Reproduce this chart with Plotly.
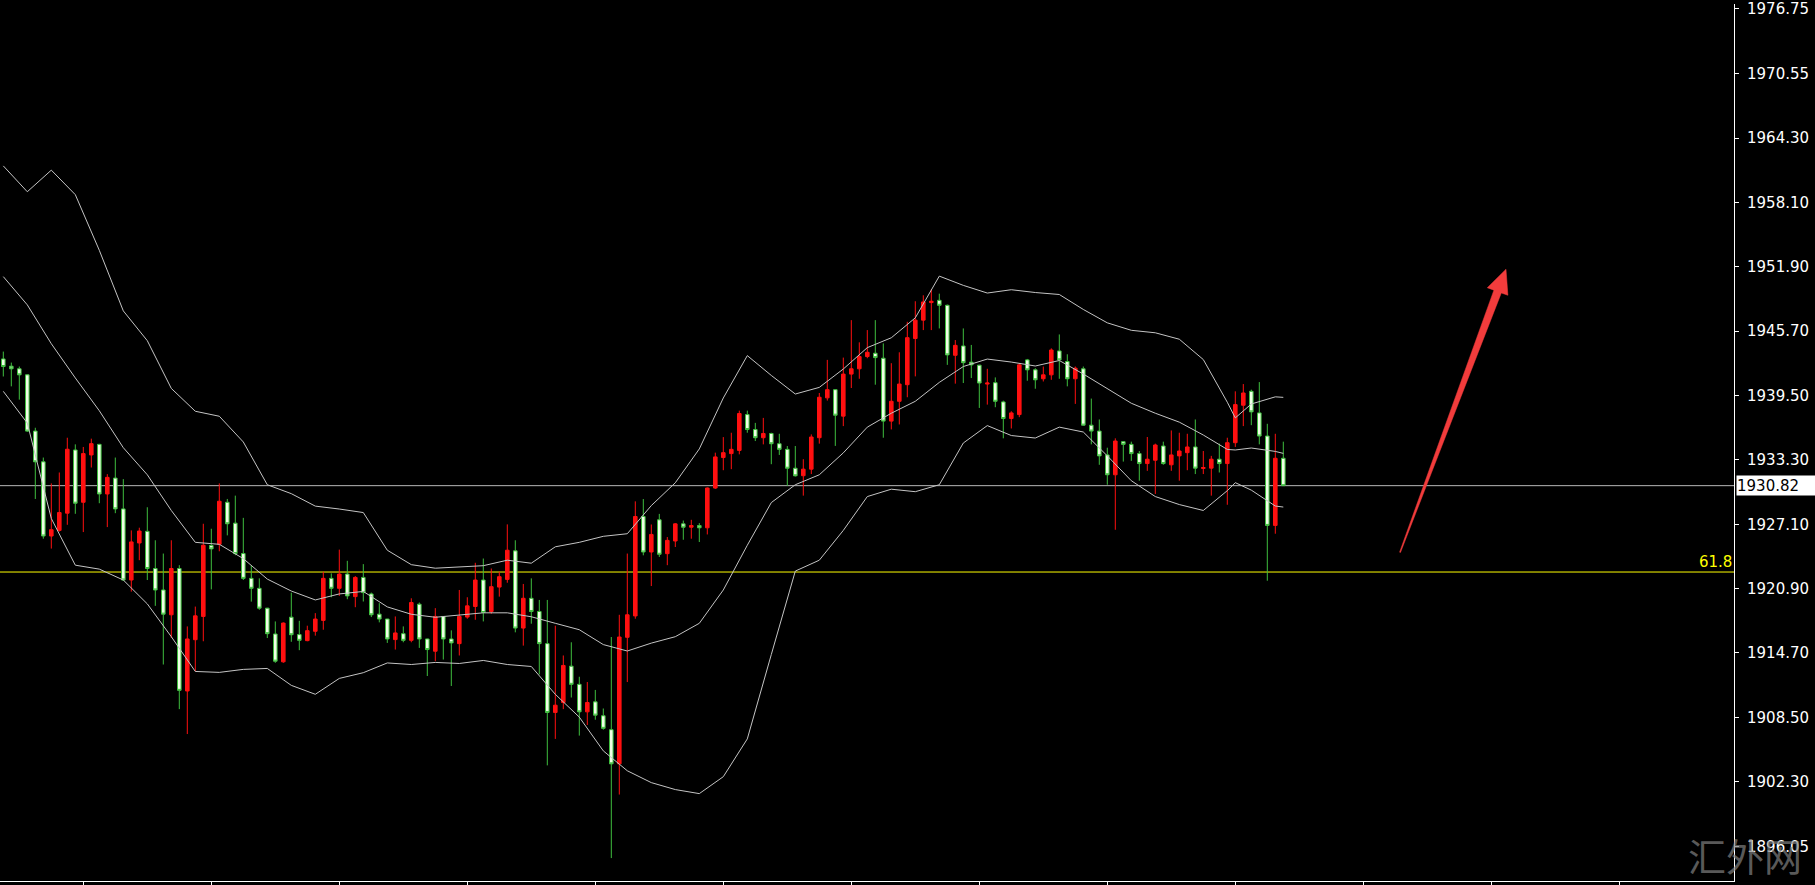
import plotly.graph_objects as go

# ---------------- data ----------------
opens = [1943.03,1942.33,1942.08,1941.50,1936.08,1933.12,1925.97,1926.51,1928.17,1934.26,
         1929.22,1933.78,1934.80,1930.02,1931.55,1928.58,1921.73,1925.30,1926.42,1922.84,
         1920.77,1918.38,1922.84,1911.04,1915.98,1918.22,1925.05,1925.17,1929.22,1927.21,
         1924.28,1921.89,1920.93,1919.02,1916.53,1913.85,1918.15,1916.47,1915.89,1916.79,
         1917.84,1921.89,1920.93,1922.30,1920.13,1921.98,1920.39,1918.44,1917.97,1915.99,
         1916.56,1915.92,1919.40,1916.05,1914.87,1918.22,1916.05,1915.60,1918.16,1919.18,
         1921.73,1918.70,1921.05,1921.79,1924.54,1917.10,1919.97,1918.70,1915.60,1908.97,
         1909.93,1913.43,1911.68,1909.03,1909.99,1908.65,1907.31,1904.02,1916.21,1918.27,
         1927.85,1924.43,1927.53,1924.27,1925.49,1927.14,1926.82,1926.98,1926.76,1930.59,
         1933.53,1933.91,1934.22,1937.67,1936.23,1935.44,1935.85,1934.86,1934.32,1932.50,
         1931.78,1932.41,1935.44,1939.28,1940.07,1937.52,1941.57,1942.08,1943.26,1943.58,
         1943.10,1937.04,1938.95,1940.55,1945.00,1946.77,1948.46,1948.68,1948.20,1943.38,
         1944.28,1942.72,1942.43,1940.61,1940.74,1938.89,1937.29,1937.67,1942.94,1941.98,
         1941.12,1941.50,1943.80,1942.78,1941.12,1942.08,1936.65,1936.08,1933.78,1931.87,
         1935.06,1934.80,1933.91,1932.95,1933.27,1934.64,1932.83,1933.69,1934.00,1934.55,
         1932.48,1932.51,1933.37,1932.95,1934.96,1938.57,1939.91,1937.83,1935.60,1926.99,
         1933.46]
highs = [1943.74,1942.68,1942.30,1941.55,1936.40,1933.53,1931.04,1932.09,1935.44,1934.80,
         1934.55,1935.35,1934.85,1931.93,1933.53,1931.45,1926.51,1926.77,1928.74,1925.56,
         1924.28,1925.56,1923.16,1917.26,1919.17,1927.15,1926.67,1931.04,1929.54,1929.86,
         1927.72,1923.16,1921.89,1919.05,1917.74,1917.65,1920.51,1917.80,1917.33,1918.54,
         1922.53,1922.37,1924.66,1923.58,1922.11,1923.26,1920.52,1919.50,1917.99,1918.22,
         1917.26,1919.97,1919.56,1916.08,1919.02,1918.25,1916.88,1920.77,1920.07,1923.39,
         1923.80,1922.84,1922.53,1927.09,1925.56,1921.35,1921.89,1919.81,1919.81,1917.33,
         1914.46,1915.73,1912.41,1911.90,1911.14,1909.35,1916.24,1918.38,1924.28,1929.31,
         1929.53,1927.08,1928.10,1925.87,1927.21,1927.46,1927.53,1927.21,1930.65,1934.00,
         1935.50,1935.92,1938.05,1938.05,1936.87,1937.35,1935.92,1935.82,1934.64,1934.64,
         1933.37,1935.76,1939.75,1942.94,1940.10,1943.16,1946.77,1944.63,1945.81,1946.77,
         1944.53,1942.62,1943.67,1946.61,1948.59,1949.16,1949.73,1949.32,1948.27,1944.85,
         1945.97,1944.38,1942.46,1942.08,1941.25,1939.01,1937.99,1942.62,1943.03,1942.14,
         1942.30,1944.05,1945.39,1943.48,1942.30,1942.30,1939.21,1937.20,1934.48,1935.38,
         1935.12,1935.06,1934.16,1935.51,1934.87,1935.06,1936.14,1935.92,1935.82,1937.20,
         1934.16,1933.69,1934.87,1935.44,1939.91,1940.61,1940.07,1940.80,1936.78,1935.82,
         1935.06]
lows = [1941.34,1940.39,1939.11,1936.00,1929.54,1925.71,1924.76,1926.40,1927.05,1928.11,
        1926.35,1932.57,1929.13,1926.83,1928.17,1921.66,1920.61,1923.64,1921.73,1919.24,
        1913.59,1916.14,1909.29,1906.89,1912.95,1915.83,1920.83,1924.50,1926.03,1924.12,
        1921.73,1919.65,1918.86,1916.14,1913.75,1913.75,1915.78,1914.97,1915.83,1916.37,
        1916.94,1920.07,1920.20,1919.88,1919.11,1919.66,1918.16,1917.65,1915.67,1915.03,
        1915.73,1915.73,1915.19,1912.48,1913.91,1914.07,1911.52,1914.46,1918.00,1917.90,
        1917.74,1918.48,1920.13,1921.47,1916.69,1915.41,1917.52,1912.64,1903.87,1906.42,
        1909.29,1910.41,1906.74,1907.76,1908.27,1907.31,1894.94,1901.06,1911.90,1918.00,
        1924.11,1921.15,1923.95,1923.16,1924.91,1925.61,1925.71,1925.39,1926.12,1930.50,
        1932.31,1932.41,1933.84,1935.92,1935.12,1934.80,1932.89,1933.78,1930.81,1931.70,
        1929.86,1931.94,1934.87,1939.02,1934.65,1936.56,1940.23,1941.12,1943.10,1940.55,
        1935.44,1936.24,1936.72,1939.34,1941.35,1945.81,1945.81,1945.97,1942.46,1940.65,
        1940.71,1941.19,1938.31,1938.63,1938.38,1935.38,1936.33,1937.42,1940.93,1940.16,
        1940.86,1941.02,1941.12,1940.39,1938.70,1936.60,1934.80,1932.83,1930.91,1926.57,
        1933.14,1933.21,1931.30,1932.25,1930.02,1932.83,1932.25,1931.30,1932.31,1931.94,
        1931.94,1929.86,1932.09,1928.98,1934.55,1936.56,1936.65,1934.80,1921.66,1926.19,
        1930.82]
closes = [1942.30,1942.08,1941.50,1936.08,1933.12,1925.97,1926.58,1928.23,1934.33,1929.13,
          1933.91,1934.87,1930.02,1931.62,1928.58,1921.73,1925.40,1926.45,1922.84,1920.77,
          1918.44,1922.84,1911.10,1916.05,1918.28,1925.08,1924.73,1929.32,1927.15,1924.28,
          1921.89,1920.93,1919.02,1916.56,1913.91,1917.58,1916.46,1915.92,1916.85,1917.97,
          1921.89,1920.93,1922.30,1920.20,1921.98,1920.52,1918.38,1917.97,1916.05,1916.63,
          1915.92,1919.56,1916.05,1915.03,1918.22,1916.05,1915.67,1918.22,1919.24,1921.73,
          1918.60,1921.09,1922.05,1924.60,1917.10,1919.97,1918.70,1915.60,1908.97,1909.67,
          1913.50,1911.68,1909.03,1909.93,1908.71,1907.44,1904.02,1916.24,1918.38,1927.85,
          1924.43,1926.12,1924.21,1925.55,1927.14,1926.82,1926.98,1926.76,1930.59,1933.59,
          1934.00,1934.32,1937.77,1936.23,1935.44,1935.85,1934.86,1934.32,1932.50,1931.77,
          1932.41,1935.51,1939.34,1940.07,1937.61,1941.57,1942.08,1943.26,1943.67,1943.16,
          1937.04,1938.95,1940.61,1945.08,1946.77,1948.52,1948.59,1948.20,1943.42,1944.34,
          1942.67,1942.46,1940.71,1940.71,1938.95,1937.29,1937.83,1942.46,1941.98,1941.02,
          1941.50,1943.89,1942.94,1941.12,1942.14,1936.65,1936.08,1933.69,1931.87,1935.12,
          1934.80,1933.91,1932.95,1933.37,1934.74,1932.95,1933.78,1934.16,1934.55,1932.51,
          1932.57,1933.37,1932.95,1934.96,1938.63,1939.75,1937.93,1935.60,1926.99,1933.46,
          1930.82]
bars = list(range(len(closes)))

band_x = [0,3,6,9,12,15,18,21,24,27,30,33,36,39,42,45,48,51,54,57,60,63,66,69,72,75,78,81,
          84,87,90,93,96,99,102,105,108,111,114,117,120,123,126,129,132,135,138,141,144,147,
          150,153,154,156,159,160]
band_upper = [1961.63,1959.14,1961.22,1958.86,1953.50,1947.66,1944.79,1940.19,1937.99,1937.51,
              1935.03,1930.91,1930.05,1928.85,1928.57,1928.23,1924.60,1923.21,1922.87,1923.00,
              1923.11,1923.64,1923.35,1924.93,1925.36,1925.94,1926.19,1928.90,1931.10,1934.36,
              1939.27,1943.35,1941.44,1939.65,1940.29,1942.06,1944.12,1945.07,1946.99,1951.01,
              1950.12,1949.38,1949.70,1949.43,1949.24,1947.80,1946.51,1945.79,1945.55,1944.93,
              1942.97,1938.86,1937.35,1938.69,1939.38,1939.33]
band_middle = [1950.96,1948.24,1944.50,1941.20,1938.04,1934.48,1931.87,1928.43,1925.36,1925.17,
               1923.79,1921.82,1920.67,1919.81,1920.39,1920.63,1919.14,1918.43,1918.14,1918.33,
               1918.57,1918.57,1918.19,1917.56,1916.94,1915.51,1914.89,1915.65,1916.27,1917.56,
               1920.77,1925.08,1929.19,1930.91,1931.87,1933.98,1936.46,1937.80,1938.95,1940.77,
               1942.30,1943.02,1942.73,1942.35,1942.88,1941.58,1940.15,1938.76,1937.80,1936.94,
               1935.70,1934.31,1934.26,1934.45,1934.12,1933.93]
band_lower = [1939.91,1936.85,1927.66,1923.16,1922.78,1921.73,1919.43,1916.27,1912.92,1912.83,
              1913.12,1913.21,1911.58,1910.72,1912.25,1912.80,1913.74,1913.59,1913.79,1913.69,
              1913.98,1913.59,1913.40,1910.72,1908.52,1905.27,1903.35,1902.21,1901.54,1901.15,
              1902.78,1906.42,1914.55,1922.59,1923.64,1926.51,1929.77,1930.48,1930.24,1930.91,
              1934.93,1936.61,1935.65,1935.41,1936.46,1935.99,1933.69,1931.30,1929.77,1929.00,
              1928.43,1930.34,1931.11,1930.39,1928.86,1928.76]

tick_vals = [1976.75,1970.55,1964.30,1958.10,1951.90,1945.70,1939.50,1933.30,1927.10,
             1920.90,1914.70,1908.50,1902.30,1896.05]
tick_text = ["1976.75","1970.55","1964.30","1958.10","1951.90","1945.70","1939.50","1933.30",
             "1927.10","1920.90","1914.70","1908.50","1902.30","1896.05"]
x_ticks = list(range(10, 215, 16))

current_price = 1930.82
current_label = "1930.82"
fib_level = 1922.50
fib_label = "61.8"
watermark = "汇外网"

# ---------------- figure ----------------
W, H = 1815, 885
ML, MR, MT, MB = 0, 81, 0, 2
PW, PH = W - ML - MR, H - MT - MB

fig = go.Figure()

fig.add_trace(go.Candlestick(
    x=bars, open=opens, high=highs, low=lows, close=closes,
    increasing=dict(line=dict(color="#ff1010", width=1), fillcolor="#ff1010"),
    decreasing=dict(line=dict(color="#3fbf3f", width=1), fillcolor="#f0ffe6"),
    whiskerwidth=0, showlegend=False, hoverinfo="skip"))

for band in (band_upper, band_middle, band_lower):
    fig.add_trace(go.Scatter(x=band_x, y=band, mode="lines",
                             line=dict(color="#c4c4c4", width=1),
                             showlegend=False, hoverinfo="skip"))

# horizontal lines
fig.add_shape(type="line", xref="paper", yref="y", x0=0, x1=1, y0=current_price,
              y1=current_price, line=dict(color="#b8b8b8", width=1), layer="below")
fig.add_shape(type="line", xref="paper", yref="y", x0=0, x1=1, y0=fib_level,
              y1=fib_level, line=dict(color="#ffff00", width=1), layer="below")

# red arrow (pixel geometry converted to paper coordinates)
def P(px, py):
    return (px - ML) / PW, 1 - (py - MT) / PH

tail_l, tail_r = P(1399.6, 551.9), P(1400.5, 552.2)
neck_l, neck_r = P(1493.9, 288.1), P(1501.3, 290.9)
head_l, head_r = P(1487.3, 285.7), P(1507.9, 293.3)
tip = P(1506.0, 267.0)
pts = [tail_l, neck_l, head_l, tip, head_r, neck_r, tail_r]
path = "M " + " L ".join(f"{x:.5f},{y:.5f}" for x, y in pts) + " Z"
fig.add_shape(type="path", xref="paper", yref="paper", path=path,
              fillcolor="#f23c3c", line=dict(color="#f23c3c", width=0.5))

# annotations
fig.add_annotation(xref="paper", yref="y", x=0.9995, y=fib_level, text=fib_label,
                   showarrow=False, xanchor="right", yanchor="bottom", yshift=0,
                   font=dict(family="DejaVu Sans", size=15, color="#ffff00"), borderpad=0)
fig.add_annotation(xref="paper", yref="y", x=1, y=current_price, text=current_label,
                   showarrow=False, xanchor="left", yanchor="middle", xshift=2,
                   bgcolor="#ffffff", width=79, height=19, align="left", borderpad=0,
                   font=dict(family="DejaVu Sans", size=15, color="#000000"))
fig.add_annotation(xref="paper", yref="paper", x=(1745 - ML) / PW, y=1 - (856 - MT) / PH,
                   text=watermark, showarrow=False, xanchor="center", yanchor="middle",
                   font=dict(family="Noto Sans CJK SC", size=38, color="rgba(130,130,130,0.7)"))

fig.update_layout(
    width=W, height=H, autosize=False,
    margin=dict(l=ML, r=MR, t=MT, b=MB, pad=0),
    paper_bgcolor="#000000", plot_bgcolor="#000000",
    showlegend=False, boxgap=0.36,
    xaxis=dict(range=[-3.3 / 8, (PW - 3.3) / 8], showgrid=False, zeroline=False,
               showline=True, linecolor="#ffffff", linewidth=1, ticks="outside",
               tickcolor="#ffffff", ticklen=4, tickvals=x_ticks, showticklabels=False,
               rangeslider=dict(visible=False), fixedrange=True),
    yaxis=dict(side="right", range=[1976.75 - (PH - 5) / 10.45, 1976.75 + 5 / 10.45],
               showgrid=False, zeroline=False, showline=True, linecolor="#ffffff",
               linewidth=1, ticks="outside", tickcolor="#ffffff", ticklen=4,
               tickvals=tick_vals, ticktext=tick_text, ticklabelstandoff=5,
               ticklabeloverflow="allow",
               tickfont=dict(family="DejaVu Sans", size=15, color="#ffffff"),
               fixedrange=True),
)

fig.write_html("out.html", config={"displayModeBar": False},
               post_script="document.body.style.margin='0';document.body.style.overflow='hidden';")
